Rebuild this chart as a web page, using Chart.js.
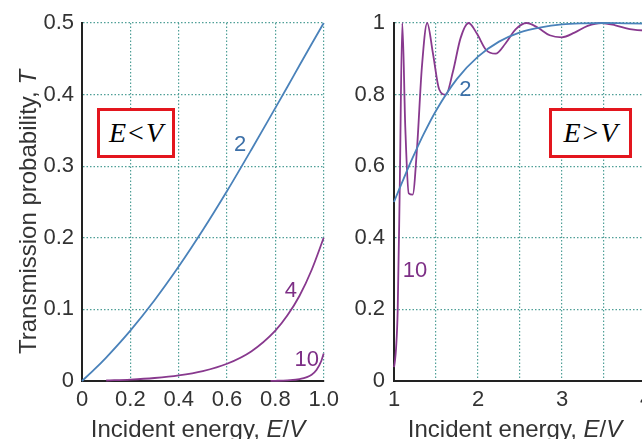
<!DOCTYPE html>
<html>
<head>
<meta charset="utf-8">
<script src="https://cdn.jsdelivr.net/npm/chart.js@4.4.0/dist/chart.umd.min.js"></script>
<style>
  html, body { margin: 0; padding: 0; background: #fff; overflow: hidden; }
  body { width: 642px; height: 439px; position: relative; font-family: "Liberation Sans", Arial, sans-serif; color: #333; }
  #left { position: absolute; left: 0; top: 0; }
  #right { position: absolute; left: 345px; top: 0; }
  .ytitle { position: absolute; width: 340px; height: 24px; line-height: 24px; font-size: 24px; text-align: center;
            left: -142px; top: 200px; transform: rotate(-90deg); white-space: nowrap; }
  .xtitle { position: absolute; top: 417px; width: 300px; height: 24px; line-height: 24px; font-size: 24px;
            text-align: center; white-space: nowrap; }
  .box { position: absolute; top: 108px; height: 50px; border: 3px solid #e3161e; box-sizing: border-box; background: #fff;
         font-family: "Liberation Serif", "Times New Roman", serif; font-size: 28px; color: #000;
         display: flex; align-items: center; justify-content: center; }
  .box span { padding: 0 2px; }
</style>
</head>
<body>
<canvas id="left" width="345" height="439"></canvas>
<canvas id="right" width="320" height="439"></canvas>
<div class="ytitle">Transmission probability, <i>T</i></div>
<div class="xtitle" style="left:48px">Incident energy, <i>E</i>/<i>V</i></div>
<div class="xtitle" style="left:365px">Incident energy, <i>E</i>/<i>V</i></div>
<div class="box" style="left:97px; width:78px"><i>E</i><span>&lt;</span><i>V</i></div>
<div class="box" style="left:549px; width:83px"><i>E</i><span>&gt;</span><i>V</i></div>
<script>
// E < V panel (E/V from 0 to 1)
const leftE2 = [0, 0.05, 0.1, 0.2, 0.3, 0.4, 0.5, 0.6, 0.7, 0.8, 0.85, 0.9, 0.95, 1.0];
const leftT2 = [0, 0.0158, 0.0328, 0.0704, 0.1128, 0.1598, 0.2108, 0.2653, 0.3227, 0.3815, 0.411, 0.441, 0.4706, 0.5];
const leftE4 = [0.1, 0.2, 0.3, 0.4, 0.5, 0.6, 0.7, 0.8, 0.85, 0.9, 0.95, 1.0];
const leftT4 = [0.0007, 0.002, 0.0042, 0.0078, 0.0139, 0.0241, 0.0413, 0.0704, 0.0917, 0.119, 0.155, 0.2];
const leftE10 = [0.78, 0.8, 0.85, 0.9, 0.95, 0.97, 0.99, 1.0];
const leftT10 = [0.0002, 0.0003, 0.0009, 0.0026, 0.0088, 0.0153, 0.0279, 0.0385];

// E > V panel (E/V from 1 to 4)
const rightE2 = [1, 1.05, 1.1, 1.2, 1.25, 1.35, 1.5, 1.75, 2, 2.25, 2.5, 2.75, 3, 3.25, 3.5, 3.75, 4];
const rightT2 = [0.5, 0.529, 0.557, 0.612, 0.638, 0.688, 0.755, 0.844, 0.906, 0.948, 0.974, 0.988, 0.996, 0.999, 1.0, 0.999, 0.998];
const rightE10 = [1, 1.0027, 1.011, 1.0247, 1.0439, 1.0685, 1.0987, 1.1343, 1.1755, 1.2221, 1.2742, 1.3317,
  1.3948, 1.4633, 1.5373, 1.6169, 1.7018, 1.7923, 1.8883, 1.9897, 2.0966, 2.209, 2.3269, 2.4503,
  2.5791, 2.7135, 2.8533, 2.9986, 3.1494, 3.3056, 3.4674, 3.6347, 3.8074, 3.9856, 4.1693];
const rightT10 = [0.0385, 0.0421, 0.0558, 0.0918, 0.1963, 0.5395, 1, 0.709, 0.524, 0.5205, 0.6507, 0.876,
  1, 0.9156, 0.815, 0.7996, 0.8643, 0.9578, 1, 0.9692, 0.9246, 0.9144, 0.9427, 0.9827,
  1, 0.9867, 0.9657, 0.96, 0.973, 0.9919, 1, 0.9935, 0.9828, 0.979, 0.986];

const blue = '#4a82ba';
const purple = '#88398e';
const gridColor = '#4f9f97';
const tickFont = { family: '"Liberation Sans", Arial, sans-serif', size: 22 };

const pts = (xs, ys) => xs.map((x, i) => ({ x: x, y: ys[i] }));
const round1 = v => Math.round(v * 10) / 10;
// "0", "0.1" ... and "1" for integers (y axes)
const fmt = v => { const r = round1(v); return r === 0 ? '0' : (Number.isInteger(r) ? String(r) : r.toFixed(1)); };
// left x axis: "0", "0.2" ... "1.0"
const fmtX = v => { const r = round1(v); return r === 0 ? '0' : r.toFixed(1); };

const curveLabels = {
  id: 'curveLabels',
  afterDatasetsDraw(chart, args, opts) {
    const { ctx, scales: { x, y } } = chart;
    ctx.save();
    ctx.font = '22px "Liberation Sans", Arial, sans-serif';
    ctx.textAlign = 'center';
    ctx.textBaseline = 'middle';
    opts.items.forEach(it => {
      ctx.fillStyle = it.color;
      ctx.fillText(it.text, x.getPixelForValue(it.x), y.getPixelForValue(it.y));
    });
    ctx.restore();
  }
};

function line(xs, ys, color) {
  return { data: pts(xs, ys), borderColor: color, borderWidth: 1.8, pointRadius: 0,
           cubicInterpolationMode: 'monotone', clip: 4 };
}

function axis(min, max, step, padding, cb, afterFit) {
  return {
    type: 'linear', min: min, max: max,
    ticks: { stepSize: step, padding: padding, font: tickFont, color: '#333', callback: cb, autoSkip: false },
    grid: { color: gridColor, lineWidth: 1.2, drawTicks: false },
    border: { color: '#222', width: 2, dash: [1.5, 2] },
    afterFit: afterFit
  };
}

new Chart(document.getElementById('left'), {
  type: 'line',
  data: { datasets: [
    line(leftE2, leftT2, blue),
    line(leftE4, leftT4, purple),
    line(leftE10, leftT10, purple)
  ] },
  options: {
    responsive: false, animation: false,
    layout: { padding: { top: 23, right: 20, left: 0, bottom: 0 } },
    plugins: {
      legend: { display: false }, tooltip: { enabled: false },
      curveLabels: { items: [
        { x: 0.654, y: 0.330, text: '2', color: '#3d70a8' },
        { x: 0.864, y: 0.126, text: '4', color: '#7d2f86' },
        { x: 0.93, y: 0.029, text: '10', color: '#7d2f86' }
      ] }
    },
    scales: {
      x: axis(0, 1, 0.2, 6, fmtX, s => { s.height = 58; }),
      y: axis(0, 0.5, 0.1, 8, fmt, s => { s.width = 82; })
    }
  },
  plugins: [curveLabels]
});

new Chart(document.getElementById('right'), {
  type: 'line',
  data: { datasets: [
    line(rightE2, rightT2, blue),
    line(rightE10, rightT10, purple)
  ] },
  options: {
    responsive: false, animation: false,
    layout: { padding: { top: 23, right: 19, left: 0, bottom: 0 } },
    plugins: {
      legend: { display: false }, tooltip: { enabled: false },
      curveLabels: { items: [
        { x: 1.85, y: 0.813, text: '2', color: '#3d70a8' },
        { x: 1.25, y: 0.307, text: '10', color: '#7d2f86' }
      ] }
    },
    scales: {
      x: axis(1, 4, 0.5, 6, v => Number.isInteger(v) ? String(v) : '', s => { s.height = 58; }),
      y: axis(0, 1, 0.2, 9, fmt, s => { s.width = 49; })
    }
  },
  plugins: [curveLabels]
});
</script>
</body>
</html>
